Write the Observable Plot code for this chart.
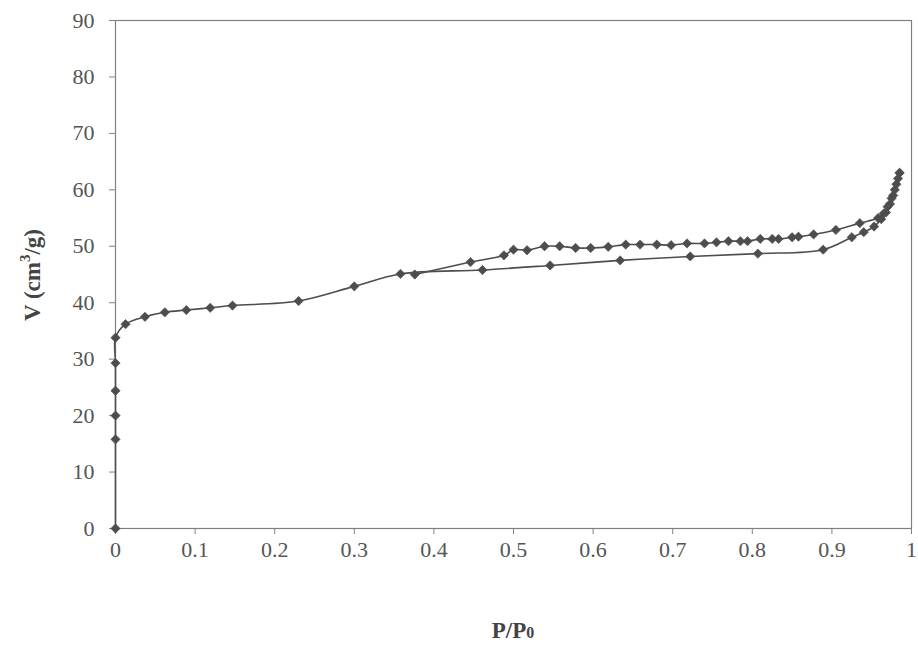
<!DOCTYPE html>
<html>
<head>
<meta charset="utf-8">
<script src="https://cdn.jsdelivr.net/npm/d3@7"></script>
<script src="https://cdn.jsdelivr.net/npm/@observablehq/plot@0.6"></script>
<style>
  html, body { margin: 0; padding: 0; background: #fff; }
  #chart { width: 918px; height: 649px; }
  #chart svg g[aria-label$="tick label"] text { font-family: "Liberation Serif", "Times New Roman", serif; font-size: 22px; }
</style>
</head>
<body>
<div id="chart"></div>
<script>
// Adsorption branch (lower)
const adsP = [0, 0, 0, 0, 0, 0, 0.0126, 0.037, 0.062, 0.089, 0.119, 0.147, 0.230, 0.300, 0.358,
  0.461, 0.546, 0.634, 0.722, 0.807, 0.889, 0.925, 0.940, 0.953, 0.962, 0.968, 0.973, 0.977, 0.981, 0.985];
const adsV = [0, 15.8, 20.0, 24.4, 29.3, 33.8, 36.2, 37.5, 38.3, 38.7, 39.1, 39.5, 40.3, 42.9, 45.1,
  45.8, 46.6, 47.5, 48.2, 48.7, 49.4, 51.6, 52.5, 53.5, 54.8, 56.0, 57.5, 59.0, 61.0, 63.0];

// Desorption branch (upper)
const desP = [0.985, 0.983, 0.979, 0.975, 0.970, 0.965, 0.958, 0.935, 0.905, 0.877, 0.858, 0.850,
  0.833, 0.825, 0.810, 0.794, 0.785, 0.770, 0.755, 0.740, 0.718, 0.698, 0.680, 0.659, 0.641, 0.619,
  0.597, 0.578, 0.558, 0.539, 0.517, 0.500, 0.488, 0.446, 0.376];
const desV = [63.0, 62.0, 60.0, 58.5, 57.0, 55.8, 55.0, 54.1, 52.9, 52.1, 51.7, 51.6,
  51.3, 51.3, 51.3, 50.9, 50.9, 50.9, 50.7, 50.5, 50.5, 50.2, 50.3, 50.3, 50.3, 49.9,
  49.7, 49.7, 50.0, 50.0, 49.3, 49.4, 48.4, 47.2, 45.0];

const xTicks = [0, 0.1, 0.2, 0.3, 0.4, 0.5, 0.6, 0.7, 0.8, 0.9, 1];
const yTicks = [0, 10, 20, 30, 40, 50, 60, 70, 80, 90];

const ads = adsP.map((p, i) => ({p, v: adsV[i]}));
const des = desP.map((p, i) => ({p, v: desV[i]}));

const ink = "#4d4d4d";
const serif = "Liberation Serif";
const chart = Plot.plot({
  width: 918,
  height: 649,
  marginLeft: 115,
  marginRight: 7,
  marginTop: 20,
  marginBottom: 121,
  style: {fontFamily: serif, fontSize: "22px", background: "#fff", color: "#555"},
  x: {domain: [0, 1]},
  y: {domain: [0, 90]},
  marks: [
    Plot.frame({stroke: "#808080", strokeWidth: 1.2}),
    Plot.axisX({ticks: xTicks, tickSize: 6, tickPadding: 7, label: null, tickFormat: d => String(d),
      stroke: "#808080", fill: "#555", fontSize: 22}),
    Plot.axisY({ticks: yTicks, tickSize: 6, tickPadding: 15, label: null,
      stroke: "#808080", fill: "#555", fontSize: 22}),
    Plot.line(ads, {x: "p", y: "v", stroke: ink, strokeWidth: 1.6, curve: "catmull-rom"}),
    Plot.line(des, {x: "p", y: "v", stroke: ink, strokeWidth: 1.6, curve: "catmull-rom"}),
    Plot.dot(ads, {x: "p", y: "v", symbol: "diamond2", r: 4.2, fill: ink, stroke: ink, strokeWidth: 0.6}),
    Plot.dot(des, {x: "p", y: "v", symbol: "diamond2", r: 4.2, fill: ink, stroke: ink, strokeWidth: 0.6})
  ]
});
document.getElementById("chart").appendChild(chart);

const svg = d3.select(chart);
svg.selectAll('g[aria-label$="tick label"]')
  .attr("font-family", serif).attr("font-size", 22);

// x-axis title with subscript
const xt = svg.append("text")
  .attr("x", 513).attr("y", 638)
  .attr("text-anchor", "middle")
  .attr("font-family", serif)
  .attr("font-weight", "bold").attr("font-size", 23).attr("fill", "#444");
xt.append("tspan").text("P/P");
xt.append("tspan").attr("font-size", 16).text("0");

// y-axis title with superscript
const yt = svg.append("text")
  .attr("transform", "translate(40,275) rotate(-90)")
  .attr("text-anchor", "middle")
  .attr("font-family", serif)
  .attr("font-weight", "bold").attr("font-size", 23).attr("fill", "#444");
yt.append("tspan").text("V (cm");
yt.append("tspan").attr("font-size", 15).attr("dy", -10).text("3");
yt.append("tspan").attr("dy", 10).text("/g)");
</script>
</body>
</html>
